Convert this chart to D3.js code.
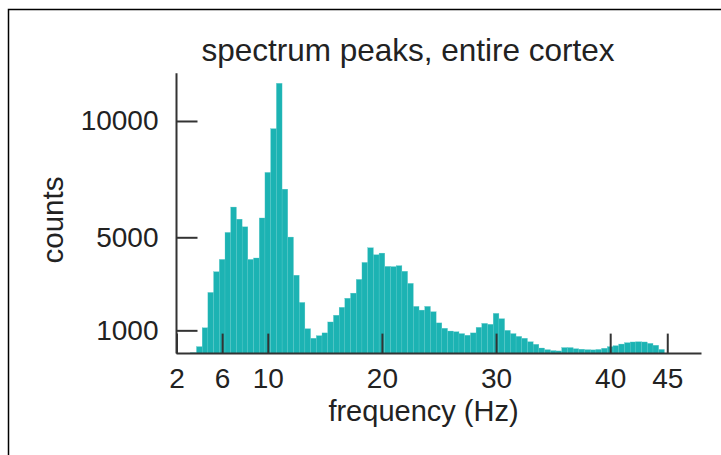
<!DOCTYPE html>
<html><head><meta charset="utf-8">
<script src="https://cdn.jsdelivr.net/npm/d3@7"></script>
<style>body{margin:0;background:#fff}svg{display:block}text{font-family:"Liberation Sans",Arial,sans-serif;fill:#222}</style>
</head><body><svg id="c" width="721" height="455"></svg>
<script>
const binCenters = [3.5,4,4.5,5,5.5,6,6.5,7,7.5,8,8.5,9,9.5,10,10.5,11,11.5,12,12.5,13,13.5,14,14.5,15,15.5,16,16.5,17,17.5,18,18.5,19,19.5,20,20.5,21,21.5,22,22.5,23,23.5,24,24.5,25,25.5,26,26.5,27,27.5,28,28.5,29,29.5,30,30.5,31,31.5,32,32.5,33,33.5,34,34.5,35,35.5,36,36.5,37,37.5,38,38.5,39,39.5,40,40.5,41,41.5,42,42.5,43,43.5,44,44.5];
const counts = [40,300,1110,2630,3520,4050,5210,6300,5780,5450,4050,4110,5830,7790,9670,11620,7070,5010,3370,2200,1070,660,770,890,1360,1650,1990,2380,2600,3190,3920,4550,4250,4320,3750,3740,3780,3540,3020,2030,1870,2030,1800,1320,1090,970,940,860,790,890,1130,1300,1260,1730,1500,1000,860,740,660,510,400,240,170,130,115,260,260,210,190,170,160,180,230,300,340,410,470,500,510,500,440,360,180];
const binWidth = 0.5;
const xTicks = [2,6,10,20,30,40,45];
const yTicks = [1000,5000,10000];

const svg = d3.select("#c");
const x = d3.scaleLinear().domain([2,48]).range([176.5,701.5]);
const y = d3.scaleLinear().domain([0,12050]).range([353.6,73.3]);

// frame
svg.append("path").attr("d","M8.5,455V9.5H721").attr("fill","none").attr("stroke","#000").attr("stroke-width",1.5);

// bars
svg.append("g").selectAll("rect").data(binCenters).join("rect")
  .attr("x",(d)=>x(d-binWidth/2))
  .attr("width",(d)=>x(d+binWidth/2)-x(d-binWidth/2))
  .attr("y",(d,i)=>y(counts[i]))
  .attr("height",(d,i)=>y(0)-y(counts[i]))
  .attr("fill","#1cb3b3").attr("stroke","#5cc9c9").attr("stroke-width",0.3);

// x axis
const xa = svg.append("g").attr("transform",`translate(0,${y(0)})`)
  .call(d3.axisBottom(x).tickValues(xTicks).tickFormat(d3.format("d")).tickSize(-20).tickPadding(15).tickSizeOuter(0));
// y axis
const ya = svg.append("g").attr("transform",`translate(${x(2)},0)`)
  .call(d3.axisLeft(y).tickValues(yTicks).tickFormat(d3.format("d")).tickSize(-21).tickPadding(18).tickSizeOuter(0));
[xa,ya].forEach(a=>{
  a.attr("font-size",28).attr("font-family","Liberation Sans, Arial, sans-serif");
  a.select(".domain").attr("stroke","#333").attr("stroke-width",2);
  a.selectAll(".tick line").attr("stroke","#333").attr("stroke-width",2);
  a.selectAll(".tick text").attr("fill","#222");
});
ya.select(".domain").attr("d",`M0,${y(12050)}V${y(0)}`);
xa.select(".domain").attr("d",`M${x(2)},0H${x(48)}`);

svg.append("text").attr("x",408).attr("y",61).attr("text-anchor","middle").attr("font-size",31.5).text("spectrum peaks, entire cortex");
svg.append("text").attr("x",423.5).attr("y",421).attr("text-anchor","middle").attr("font-size",29).text("frequency (Hz)");
svg.append("text").attr("transform","translate(63,220) rotate(-90)").attr("text-anchor","middle").attr("font-size",29.5).text("counts");
</script></body></html>
